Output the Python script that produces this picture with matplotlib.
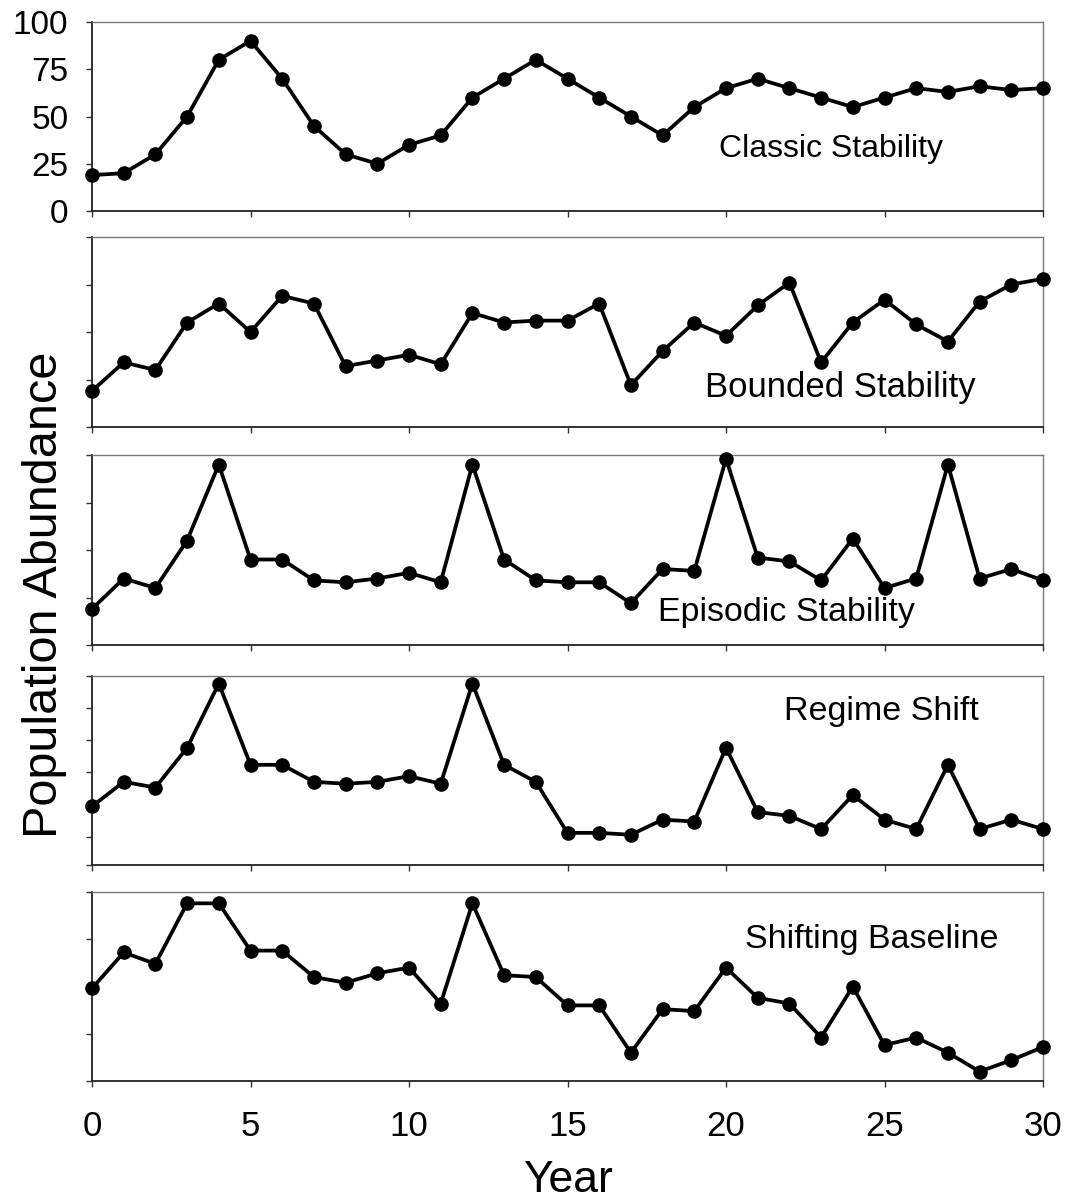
import numpy as np
import matplotlib
matplotlib.use("Agg")
import matplotlib.pyplot as plt

plt.rcParams['font.family'] = ['Liberation Sans', 'DejaVu Sans']

years = np.arange(0, 31)

classic = [19, 20, 30, 50, 80, 90, 70, 45, 30, 25, 35, 40, 60, 70, 80, 70,
           60, 50, 40, 55, 65, 70, 65, 60, 55, 60, 65, 63, 66, 64, 65]
bounded = [19, 34, 30, 55, 65, 50, 69, 65, 32, 35, 38, 33, 60, 55, 56, 56,
           65, 22, 40, 55, 48, 64, 76, 34, 55, 67, 54, 45, 66, 75, 78]
episodic = [19, 35, 30, 55, 95, 45, 45, 34, 33, 35, 38, 33, 95, 45, 34, 33,
            33, 22, 40, 39, 98, 46, 44, 34, 56, 30, 35, 95, 35, 40, 34]
regime = [31, 44, 41, 62, 96, 53, 53, 44, 43, 44, 47, 43, 96, 53, 44, 17,
          17, 16, 24, 23, 62, 28, 26, 19, 37, 24, 19, 53, 19, 24, 19]
shifting = [49, 68, 62, 94, 94, 69, 69, 55, 52, 57, 60, 41, 94, 56, 55, 40,
            40, 15, 38, 37, 60, 44, 41, 23, 50, 19, 23, 15, 5, 11, 18]

series = [classic, bounded, episodic, regime, shifting]
names = ["Classic Stability", "Bounded Stability", "Episodic Stability",
         "Regime Shift", "Shifting Baseline"]
label_xy = [(23.3, 33), (23.6, 21), (21.9, 17), (24.9, 81), (24.6, 75)]
label_size = [23, 25, 24.5, 24.5, 24.5]
yticks = [[0, 25, 50, 75, 100], [0, 25, 50, 75, 100], [0, 25, 50, 75, 100],
          [0, 15, 32, 49, 66, 83, 100], [0, 25, 50, 75, 100]]
xticks = [0, 5, 10, 15, 20, 25, 30]

W, H = 1065, 1202
fig = plt.figure(figsize=(W / 100, H / 100), dpi=100)

# panel extents in pixels (top, bottom)
panels = [(22, 211), (237, 427), (455, 645), (676, 865), (892, 1081)]
left, right = 92, 1043

for i, (top, bot) in enumerate(panels):
    ax = fig.add_axes([left / W, 1 - bot / H, (right - left) / W, (bot - top) / H])
    ax.plot(years, series[i], color='black', lw=2.7, marker='o', ms=9.5,
            clip_on=False, zorder=3)
    ax.set_xlim(0, 30)
    ax.set_ylim(0, 100)
    ax.set_xticks(xticks)
    ax.set_yticks(yticks[i])
    ax.tick_params(direction='out', length=4, width=1, color='#333333')
    for s in ['top', 'right']:
        ax.spines[s].set_color('#777777')
        ax.spines[s].set_linewidth(1)
    for s in ['left', 'bottom']:
        ax.spines[s].set_color('#222222')
        ax.spines[s].set_linewidth(1.3)
    if i == 0:
        ax.tick_params(axis='y', labelsize=24, pad=13)
    else:
        ax.set_yticklabels([])
    if i == len(panels) - 1:
        ax.set_xticklabels([str(t) for t in xticks], fontsize=25)
        ax.tick_params(axis='x', pad=17)
    else:
        ax.set_xticklabels([])
    ax.text(label_xy[i][0], label_xy[i][1], names[i], fontsize=label_size[i],
            ha='center', va='center')

fig.text(45 / W, 1 - 595 / H, "Population Abundance", rotation=90,
         fontsize=35, ha='center', va='center')
fig.text(568 / W, 1 - 1181 / H, "Year", fontsize=32,
         ha='center', va='center')

fig.savefig("out.png", dpi=100)
